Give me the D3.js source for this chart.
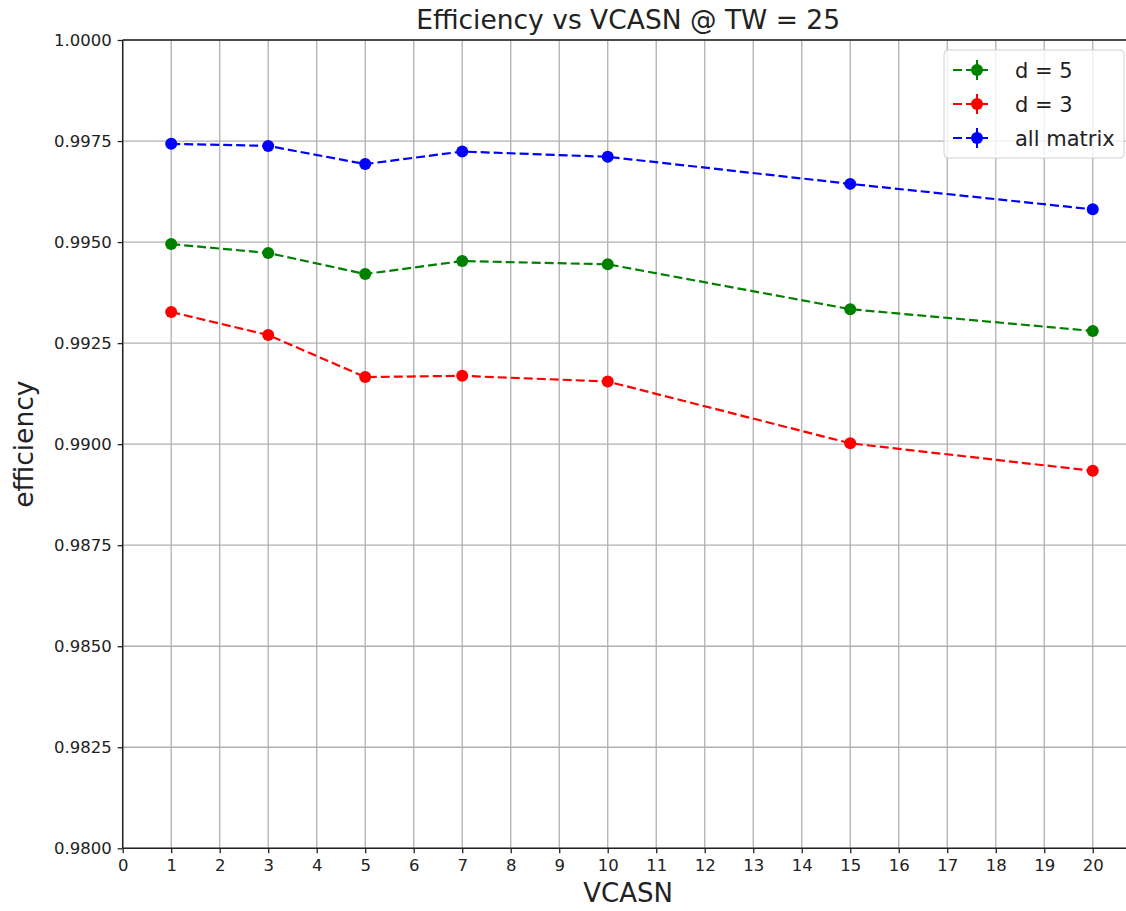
<!DOCTYPE html>
<html>
<head>
<meta charset="utf-8">
<script src="https://cdn.jsdelivr.net/npm/d3@7"></script>
<style>
  body { margin: 0; background: #fff; }
  text { font-family: "DejaVu Sans", sans-serif; fill: #222; }
</style>
</head>
<body>
<svg id="chart" width="1126" height="911"></svg>
<script>
const vcasn = [1, 3, 5, 7, 10, 15, 20];
const effD5 = [0.99495, 0.99473, 0.99421, 0.99453, 0.99445, 0.99334, 0.99280];
const effD3 = [0.99327, 0.99270, 0.99166, 0.99169, 0.99155, 0.99002, 0.98934];
const effAll = [0.99743, 0.99738, 0.99693, 0.99724, 0.99711, 0.99644, 0.99581];
const yTicks = d3.range(0, 9).map(i => 0.98 + i * 0.0025);
const xTicks = d3.range(0, 21);

const series = [
  { name: 'd = 5', color: 'green', values: effD5 },
  { name: 'd = 3', color: 'red', values: effD3 },
  { name: 'all matrix', color: 'blue', values: effAll },
];

const margin = { top: 40, left: 122.7 };
const plotW = 1010.8; // runs past the right edge of the picture
const plotH = 808.3;

const svg = d3.select('#chart');
const g = svg.append('g').attr('transform', `translate(${margin.left}, ${margin.top})`);

const x = d3.scaleLinear().domain([0, 20.84]).range([0, plotW]);
const y = d3.scaleLinear().domain([0.98, 1.0]).range([plotH, 0]);

// grid
g.append('g')
  .selectAll('line')
  .data(xTicks)
  .join('line')
  .attr('x1', d => x(d)).attr('x2', d => x(d))
  .attr('y1', 0).attr('y2', plotH)
  .attr('stroke', '#b0b0b0').attr('stroke-width', 1.3);
g.append('g')
  .selectAll('line')
  .data(yTicks)
  .join('line')
  .attr('x1', 0).attr('x2', plotW)
  .attr('y1', d => y(d)).attr('y2', d => y(d))
  .attr('stroke', '#b0b0b0').attr('stroke-width', 1.3);

// axes
const xAxis = g.append('g')
  .attr('transform', `translate(0, ${plotH})`)
  .call(d3.axisBottom(x).tickValues(xTicks).tickSize(5).tickPadding(6).tickFormat(d3.format('d')));
const yAxis = g.append('g')
  .call(d3.axisLeft(y).tickValues(yTicks).tickSize(5).tickPadding(6).tickFormat(d3.format('.4f')));
[xAxis, yAxis].forEach(a => {
  a.select('.domain').remove();
  a.selectAll('line').attr('stroke', '#222').attr('stroke-width', 1.3);
  a.selectAll('text').style('font-size', '16.5px').attr('fill', '#222');
});

// spines
g.append('line').attr('x1', 0).attr('x2', 0).attr('y1', 0).attr('y2', plotH)
  .attr('stroke', '#222').attr('stroke-width', 1.5);
g.append('line').attr('x1', 0).attr('x2', plotW).attr('y1', plotH).attr('y2', plotH)
  .attr('stroke', '#222').attr('stroke-width', 1.5);
g.append('line').attr('x1', 0).attr('x2', plotW).attr('y1', 0).attr('y2', 0)
  .attr('stroke', '#222').attr('stroke-width', 1.5);

// lines + markers
const line = d3.line().x(d => x(d[0])).y(d => y(d[1]));
series.forEach(s => {
  const pts = vcasn.map((v, i) => [v, s.values[i]]);
  g.append('path')
    .datum(pts)
    .attr('d', line)
    .attr('fill', 'none')
    .attr('stroke', s.color)
    .attr('stroke-width', 2.2)
    .attr('stroke-dasharray', '9,4');
  g.append('g')
    .selectAll('circle')
    .data(pts)
    .join('circle')
    .attr('cx', d => x(d[0]))
    .attr('cy', d => y(d[1]))
    .attr('r', 6)
    .attr('fill', s.color);
});

// title & labels
svg.append('text')
  .attr('x', margin.left + plotW / 2).attr('y', 29)
  .attr('text-anchor', 'middle')
  .style('font-size', '26.5px')
  .text('Efficiency vs VCASN @ TW = 25');
svg.append('text')
  .attr('x', margin.left + plotW / 2).attr('y', 902)
  .attr('text-anchor', 'middle')
  .style('font-size', '26px')
  .text('VCASN');
svg.append('text')
  .attr('transform', `translate(33, ${margin.top + plotH / 2}) rotate(-90)`)
  .attr('text-anchor', 'middle')
  .style('font-size', '26.5px')
  .text('efficiency');

// legend
const lg = svg.append('g').attr('transform', 'translate(944, 50)');
lg.append('rect')
  .attr('width', 180).attr('height', 108).attr('rx', 4)
  .attr('fill', 'white').attr('fill-opacity', 0.8)
  .attr('stroke', '#d0d0d0').attr('stroke-width', 1);
series.forEach((s, i) => {
  const cy = 20 + i * 34;
  lg.append('line').attr('x1', 9).attr('x2', 48).attr('y1', cy).attr('y2', cy)
    .attr('stroke', s.color).attr('stroke-width', 2.2).attr('stroke-dasharray', '9,4');
  lg.append('line').attr('x1', 33).attr('x2', 33).attr('y1', cy - 10).attr('y2', cy + 10)
    .attr('stroke', s.color).attr('stroke-width', 2);
  lg.append('circle').attr('cx', 33).attr('cy', cy).attr('r', 6).attr('fill', s.color);
  lg.append('text').attr('x', 71).attr('y', cy).attr('dy', '0.36em')
    .style('font-size', '21px')
    .text(s.name);
});
</script>
</body>
</html>
